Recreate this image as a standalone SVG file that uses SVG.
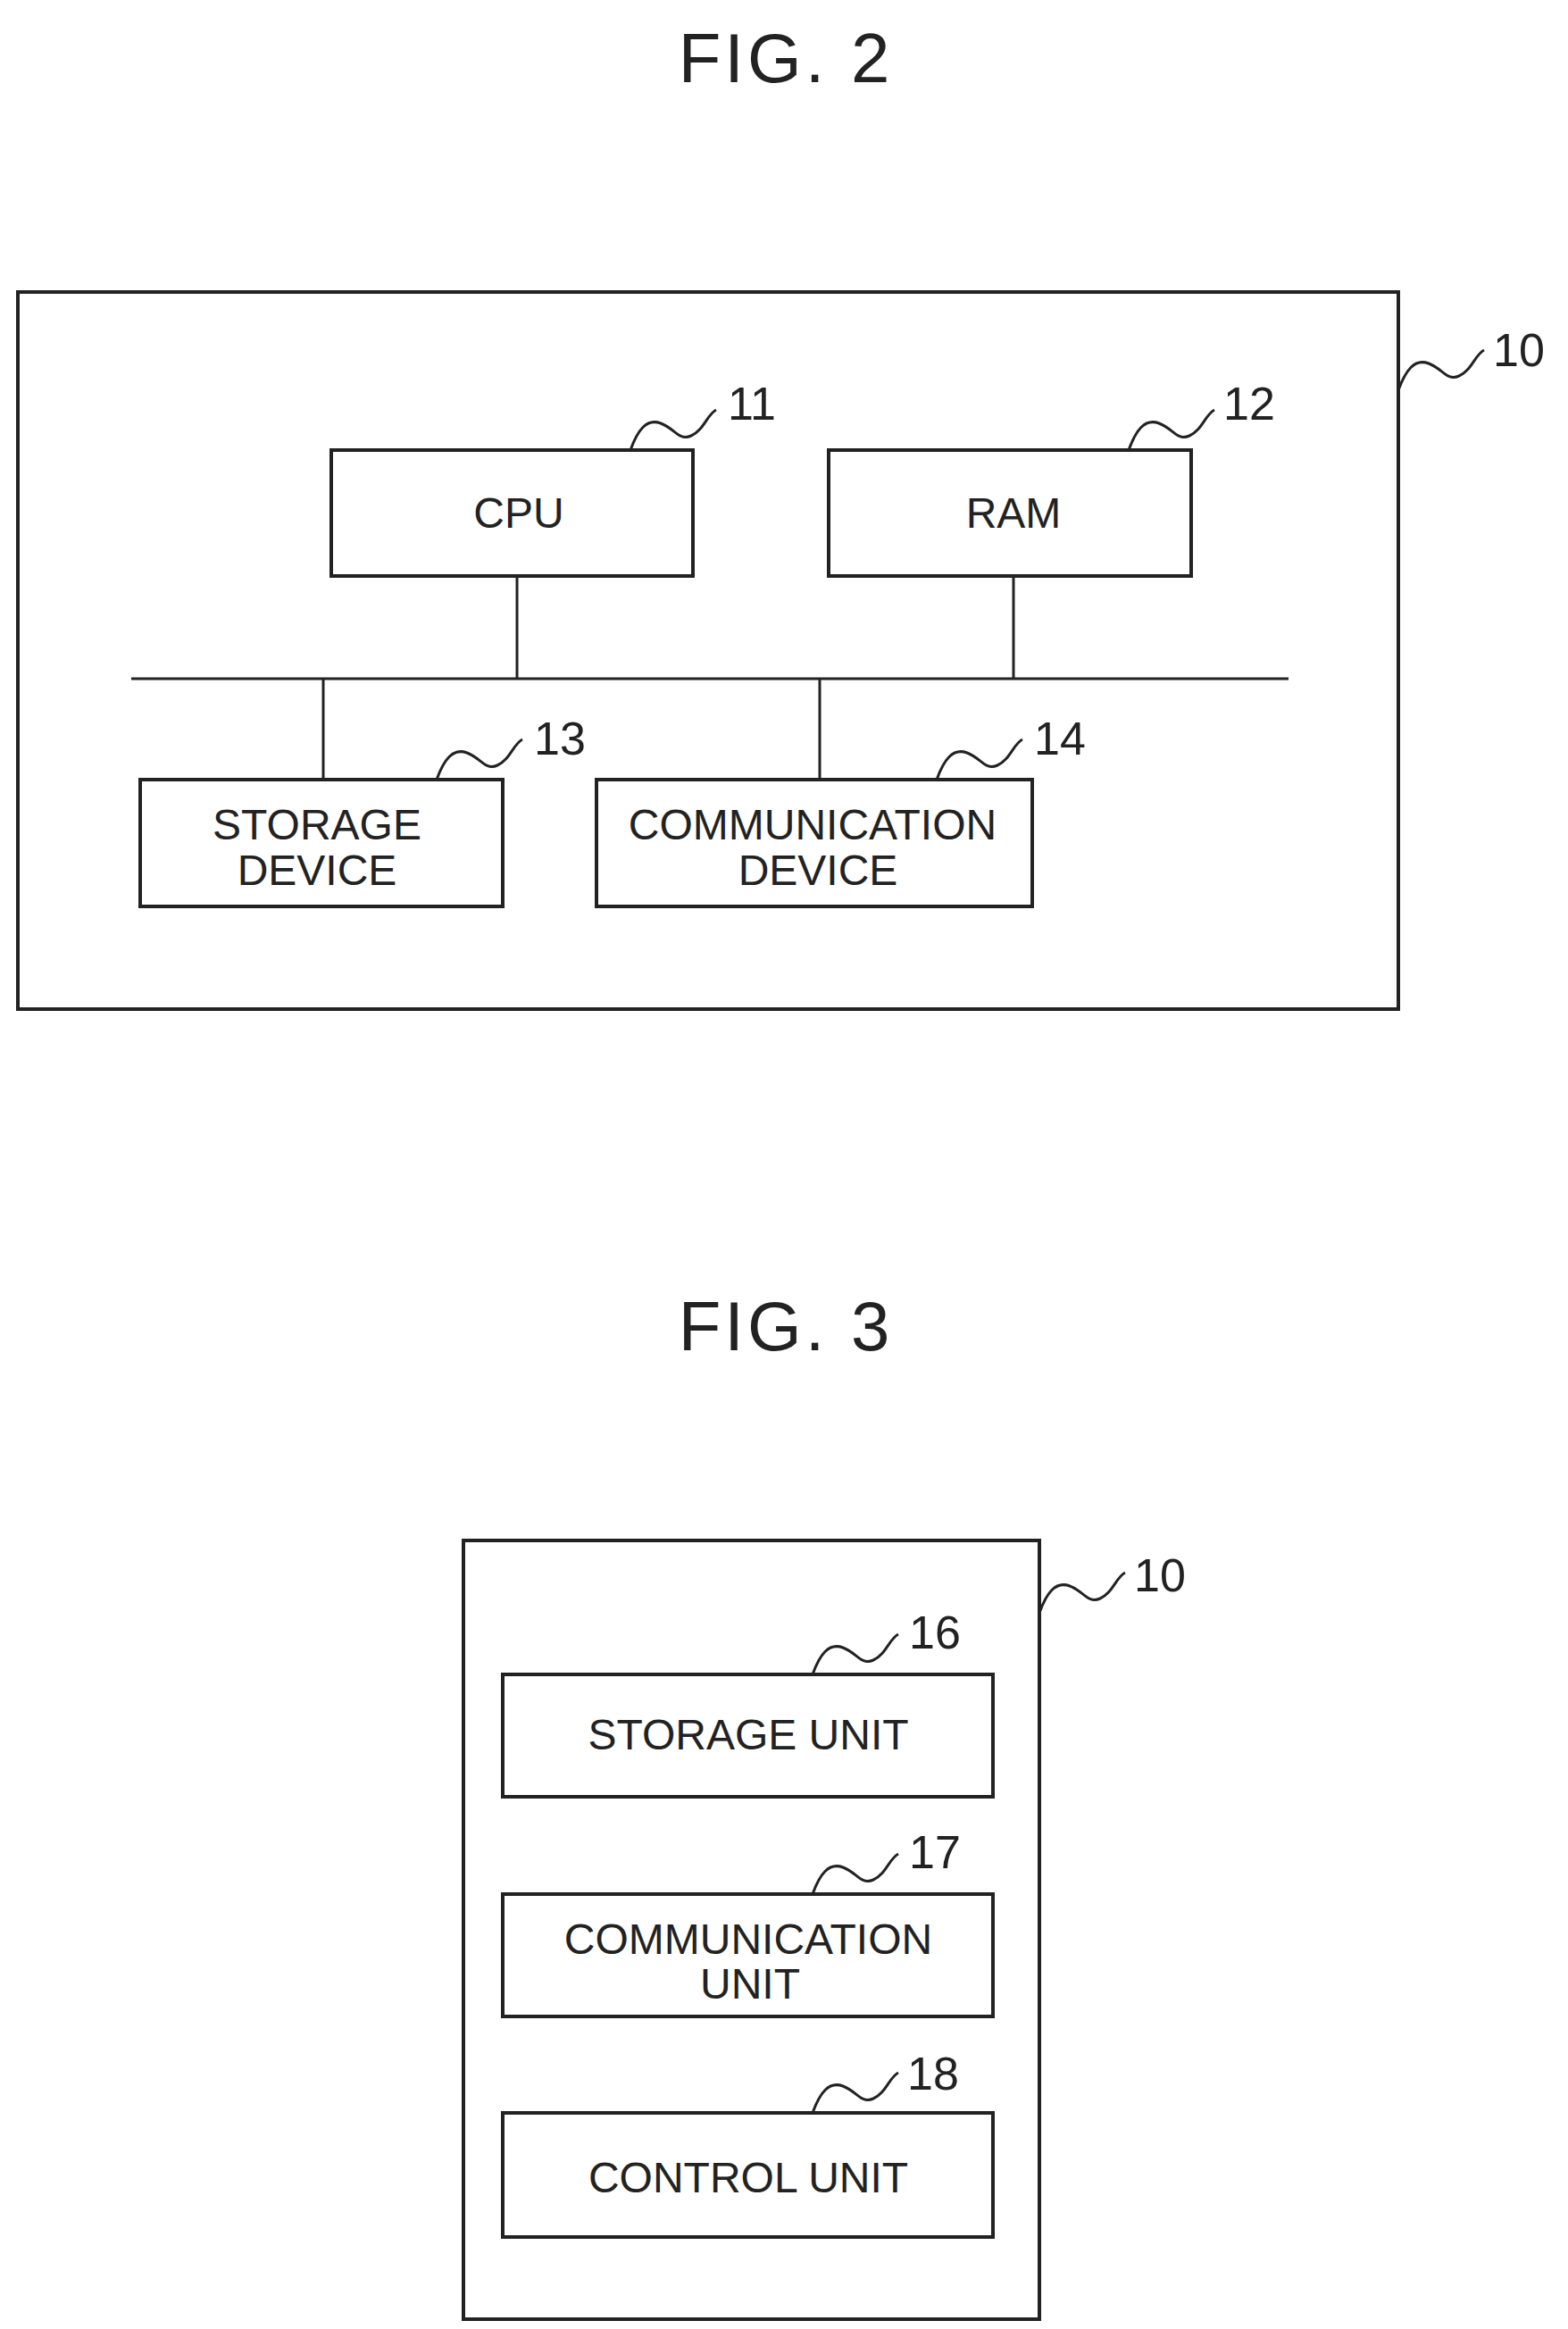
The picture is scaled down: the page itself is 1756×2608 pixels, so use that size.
<svg xmlns="http://www.w3.org/2000/svg" width="1756" height="2608" viewBox="0 0 1756 2608">
<defs>
<style>
.b{fill:none;stroke:#222;stroke-width:4}
.l{fill:none;stroke:#222;stroke-width:3}
.t{font-family:"Liberation Sans",Arial,sans-serif;font-size:48px;fill:#222;text-anchor:middle}
.n{font-family:"Liberation Sans",Arial,sans-serif;font-size:52px;fill:#222}
.f{font-family:"Liberation Sans",Arial,sans-serif;font-size:78px;fill:#222;text-anchor:middle;letter-spacing:4px}
</style>
<path id="sq" d="M0,0 C8,-22 18,-36 34,-30 S54,-10 68,-16 S86,-40 96,-45" fill="none" stroke="#222" stroke-width="3"/>
</defs>
<rect width="1756" height="2608" fill="#fff"/>
<text class="f" x="880" y="92">FIG. 2</text>
<g id="n10a"><rect class="b" x="20" y="327" width="1546" height="803"/><use href="#sq" x="1566" y="437"/><text class="n" x="1672" y="410">10</text></g>
<g id="cpu"><rect class="b" x="371" y="504" width="405" height="141"/><text class="t" x="581" y="591">CPU</text><use href="#sq" x="706" y="504"/><text class="n" x="815" y="470">11</text></g>
<g id="ram"><rect class="b" x="928" y="504" width="406" height="141"/><text class="t" x="1135" y="591">RAM</text><use href="#sq" x="1264" y="504"/><text class="n" x="1370" y="470">12</text></g>
<g id="storage"><rect class="b" x="157" y="873" width="406" height="142"/><text class="t" x="355" y="940">STORAGE</text><text class="t" x="355" y="991">DEVICE</text><use href="#sq" x="489" y="873"/><text class="n" x="598" y="845">13</text></g>
<g id="comm"><rect class="b" x="668" y="873" width="488" height="142"/><text class="t" x="910" y="940">COMMUNICATION</text><text class="t" x="916" y="991">DEVICE</text><use href="#sq" x="1049" y="873"/><text class="n" x="1158" y="845">14</text></g>
<g id="connectors">
<line class="l" x1="147" y1="760" x2="1443" y2="760"/>
<line class="l" x1="579" y1="645" x2="579" y2="760"/>
<line class="l" x1="1135" y1="645" x2="1135" y2="760"/>
<line class="l" x1="362" y1="760" x2="362" y2="873"/>
<line class="l" x1="918" y1="760" x2="918" y2="873"/>
</g>
<text class="f" x="880" y="1512">FIG. 3</text>
<g id="n10b"><rect class="b" x="519" y="1725" width="645" height="872"/><use href="#sq" x="1164" y="1806"/><text class="n" x="1270" y="1782">10</text></g>
<g id="su"><rect class="b" x="563" y="1875" width="549" height="137"/><text class="t" x="838" y="1959">STORAGE UNIT</text><use href="#sq" x="910" y="1875"/><text class="n" x="1018" y="1846">16</text></g>
<g id="cu"><rect class="b" x="563" y="2121" width="549" height="137"/><text class="t" x="838" y="2188">COMMUNICATION</text><text class="t" x="840" y="2238">UNIT</text><use href="#sq" x="910" y="2121"/><text class="n" x="1018" y="2092">17</text></g>
<g id="ctl"><rect class="b" x="563" y="2366" width="549" height="139"/><text class="t" x="838" y="2455">CONTROL UNIT</text><use href="#sq" x="910" y="2366"/><text class="n" x="1016" y="2340">18</text></g>
</svg>
